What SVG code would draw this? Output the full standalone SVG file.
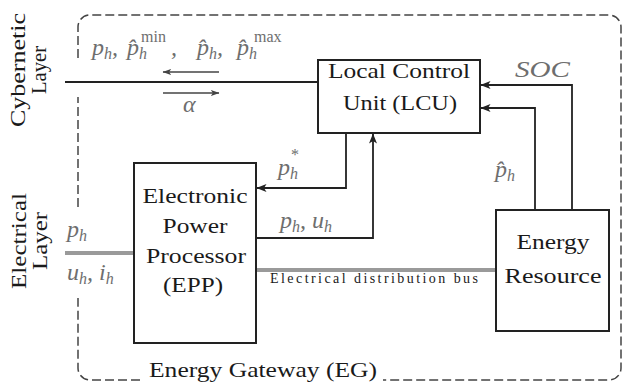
<svg xmlns="http://www.w3.org/2000/svg" width="623" height="385" viewBox="0 0 623 385">
<defs>
<marker id="ah" viewBox="0 0 10 8" refX="9.5" refY="4" markerWidth="10" markerHeight="8" markerUnits="userSpaceOnUse" orient="auto">
<path d="M0,0 L10,4 L0,8 L2.5,4 Z" fill="#222"/>
</marker>
<marker id="ah2" viewBox="0 0 10 8" refX="9.5" refY="4" markerWidth="9" markerHeight="7" markerUnits="userSpaceOnUse" orient="auto">
<path d="M0,0.5 L10,4 L0,7.5 L2.5,4 Z" fill="#444"/>
</marker>
<style>
.box{fill:#fff;stroke:#222;stroke-width:2}
.ln{fill:none;stroke:#222;stroke-width:1.8}
.gray{fill:none;stroke:#9a9a9a;stroke-width:4}
.dash{fill:none;stroke:#444;stroke-width:1.5;stroke-dasharray:9 4}
</style>
</defs>
<rect width="623" height="385" fill="#fff"/>

<g id="gateway">
<path class="dash" d="M78,58 V27 A12,12 0 0 1 90,15 H609 A12,12 0 0 1 621,27 V368 A12,12 0 0 1 609,380 H383"/>
<path class="dash" d="M140,380 H90 A12,12 0 0 1 78,368 V298"/>
<path class="dash" d="M78,207 V97"/>
<text x="149" y="377" font-family="Liberation Serif" font-size="22" fill="#1a1a1a" textLength="228" lengthAdjust="spacingAndGlyphs">Energy Gateway (EG)</text>
</g>

<g id="layers">
<text transform="translate(25,70) rotate(-90)" font-family="Liberation Serif" font-size="22" fill="#1a1a1a" text-anchor="middle" textLength="114" lengthAdjust="spacingAndGlyphs">Cybernetic</text>
<text transform="translate(46,70) rotate(-90)" font-family="Liberation Serif" font-size="22" fill="#1a1a1a" text-anchor="middle" textLength="48" lengthAdjust="spacingAndGlyphs">Layer</text>
<text transform="translate(26,241) rotate(-90)" font-family="Liberation Serif" font-size="22" fill="#1a1a1a" text-anchor="middle" textLength="96" lengthAdjust="spacingAndGlyphs">Electrical</text>
<text transform="translate(47,241) rotate(-90)" font-family="Liberation Serif" font-size="22" fill="#1a1a1a" text-anchor="middle" textLength="58" lengthAdjust="spacingAndGlyphs">Layer</text>
</g>

<g id="connectors">
<line class="ln" x1="65" y1="82" x2="318" y2="82"/>
<line x1="219" y1="72" x2="163" y2="72" stroke="#444" stroke-width="1.3" marker-end="url(#ah2)"/>
<line x1="163" y1="93" x2="219" y2="93" stroke="#444" stroke-width="1.3" marker-end="url(#ah2)"/>
<path class="ln" d="M346,133 V188 H257" marker-end="url(#ah)"/>
<path class="ln" d="M256,238 H373 V134" marker-end="url(#ah)"/>
<path class="ln" d="M572,210 V85 H481" marker-end="url(#ah)"/>
<path class="ln" d="M535,210 V108 H481" marker-end="url(#ah)"/>
<line class="gray" x1="65" y1="253" x2="134" y2="253"/>
<line class="gray" x1="256" y1="270" x2="496" y2="270"/>
</g>

<g id="labels" fill="#6e6e6e">
<text x="92" y="55" font-family="Liberation Serif" font-style="italic" font-size="24">p<tspan font-size="16" dy="4">h</tspan><tspan dy="-4">,</tspan></text>
<text x="127" y="55" font-family="Liberation Serif" font-style="italic" font-size="24">p&#770;<tspan font-size="16" dy="4">h</tspan></text>
<text x="141" y="42" font-family="Liberation Serif" font-size="16">min</text>
<text x="171" y="55" font-family="Liberation Serif" font-style="italic" font-size="24">,</text>
<text x="197" y="55" font-family="Liberation Serif" font-style="italic" font-size="24">p&#770;<tspan font-size="16" dy="4">h</tspan><tspan dy="-4">,</tspan></text>
<text x="237" y="55" font-family="Liberation Serif" font-style="italic" font-size="24">p&#770;<tspan font-size="16" dy="4">h</tspan></text>
<text x="254" y="42" font-family="Liberation Serif" font-size="16">max</text>
<text x="183" y="112" font-family="Liberation Serif" font-style="italic" font-size="24">&#945;</text>
<text x="515" y="77" font-family="Liberation Serif" font-style="italic" font-size="24" textLength="55" lengthAdjust="spacingAndGlyphs">SOC</text>
<text x="495" y="177" font-family="Liberation Serif" font-style="italic" font-size="24">p&#770;<tspan font-size="16" dy="4">h</tspan></text>
<text x="278" y="175" font-family="Liberation Serif" font-style="italic" font-size="24">p<tspan font-size="16" dy="4">h</tspan></text>
<text x="291" y="160" font-family="Liberation Serif" font-size="16">*</text>
<text x="280" y="228" font-family="Liberation Serif" font-style="italic" font-size="24">p<tspan font-size="16" dy="4">h</tspan><tspan dy="-4">, u</tspan><tspan font-size="16" dy="4">h</tspan></text>
<text x="67" y="237" font-family="Liberation Serif" font-style="italic" font-size="24">p<tspan font-size="16" dy="4">h</tspan></text>
<text x="67" y="280" font-family="Liberation Serif" font-style="italic" font-size="24">u<tspan font-size="16" dy="4">h</tspan><tspan dy="-4">, i</tspan><tspan font-size="16" dy="4">h</tspan></text>
<text x="270" y="283" font-family="Liberation Serif" font-size="14" fill="#1a1a1a" textLength="208" lengthAdjust="spacing">Electrical distribution bus</text>
</g>

<g id="lcu">
<rect class="box" x="318" y="60" width="162" height="73"/>
<text x="399" y="78" font-family="Liberation Serif" font-size="22" fill="#1a1a1a" text-anchor="middle" textLength="142" lengthAdjust="spacingAndGlyphs">Local Control</text>
<text x="400" y="110" font-family="Liberation Serif" font-size="22" fill="#1a1a1a" text-anchor="middle" textLength="114" lengthAdjust="spacingAndGlyphs">Unit (LCU)</text>
</g>

<g id="epp">
<rect class="box" x="134" y="163" width="122" height="180"/>
<text x="195" y="203" font-family="Liberation Serif" font-size="22" fill="#1a1a1a" text-anchor="middle" textLength="105" lengthAdjust="spacingAndGlyphs">Electronic</text>
<text x="195" y="233" font-family="Liberation Serif" font-size="22" fill="#1a1a1a" text-anchor="middle" textLength="65" lengthAdjust="spacingAndGlyphs">Power</text>
<text x="196" y="263" font-family="Liberation Serif" font-size="22" fill="#1a1a1a" text-anchor="middle" textLength="100" lengthAdjust="spacingAndGlyphs">Processor</text>
<text x="193" y="292" font-family="Liberation Serif" font-size="22" fill="#1a1a1a" text-anchor="middle" textLength="60" lengthAdjust="spacingAndGlyphs">(EPP)</text>
</g>

<g id="energy-resource">
<rect class="box" x="496" y="210" width="113" height="121"/>
<text x="553" y="249" font-family="Liberation Serif" font-size="22" fill="#1a1a1a" text-anchor="middle" textLength="73" lengthAdjust="spacingAndGlyphs">Energy</text>
<text x="553" y="283" font-family="Liberation Serif" font-size="22" fill="#1a1a1a" text-anchor="middle" textLength="97" lengthAdjust="spacingAndGlyphs">Resource</text>
</g>
</svg>
